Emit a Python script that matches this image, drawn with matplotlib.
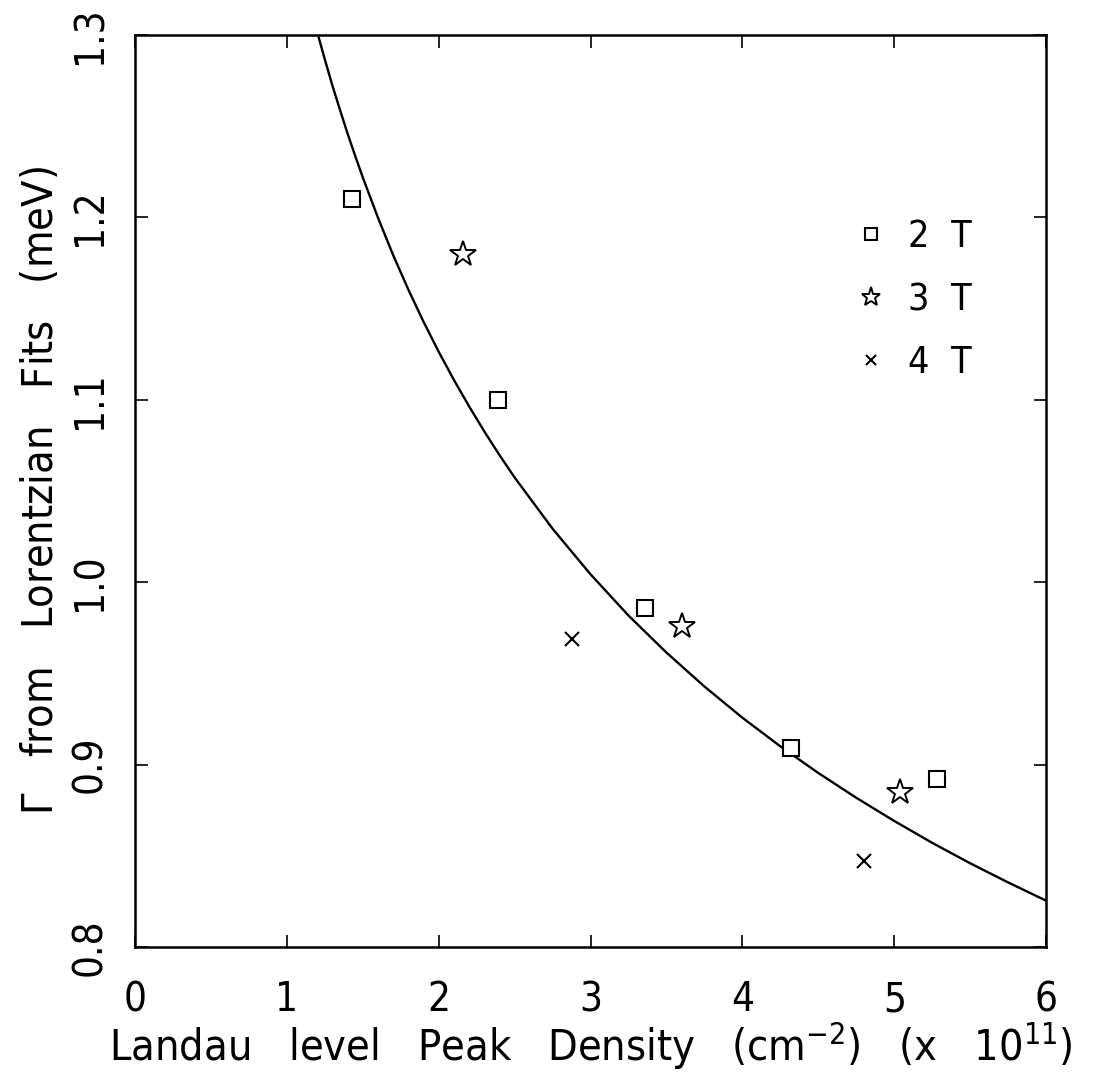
import matplotlib
matplotlib.use('Agg')
from matplotlib import pyplot as plt

# data
sq_x = [1.43, 2.39, 3.36, 4.32, 5.28]
sq_y = [1.210, 1.100, 0.986, 0.909, 0.892]

star_x = [2.16, 3.60, 5.04]
star_y = [1.180, 0.976, 0.885]

cross_x = [2.88, 4.80]
cross_y = [0.969, 0.847]

# fit curve, points
fit_x = [1.21, 1.25, 1.3, 1.35, 1.4, 1.45, 1.5, 1.6, 1.7, 1.8, 1.9, 2.0,
         2.1, 2.2, 2.3, 2.4, 2.5, 2.75, 3.0, 3.25, 3.5, 3.75, 4.0, 4.25,
         4.5, 4.75, 5.0, 5.25, 5.5, 5.75, 6.0]
fit_y = [1.2985, 1.2866, 1.2722, 1.2589, 1.2459, 1.2337, 1.2219, 1.1998,
         1.1793, 1.1604, 1.1428, 1.1263, 1.1109, 1.0964, 1.0827, 1.0697,
         1.0574, 1.0293, 1.0043, 0.9817, 0.9614, 0.9428, 0.9257, 0.9100,
         0.8954, 0.8818, 0.8691, 0.8571, 0.8459, 0.8354, 0.8254]

x_ticks = [0, 1, 2, 3, 4, 5, 6]
y_ticks = [0.8, 0.9, 1.0, 1.1, 1.2, 1.3]

plt.rcParams['font.family'] = ['DejaVu Sans']
plt.rcParams['font.stretch'] = 'condensed'

fig = plt.figure(figsize=(10.97, 10.77), dpi=100)
ax = fig.add_axes([0.1231, 0.1207, 0.8305, 0.8468])

ax.plot(fit_x, fit_y, color='black', lw=1.7)
ax.plot(sq_x, sq_y, ls='none', marker='s', ms=12, mfc='white', mec='black',
        mew=1.5, label='2  T')
ax.plot(star_x, star_y, ls='none', marker='*', ms=19, mfc='white', mec='black',
        mew=1.4, label='3  T')
ax.plot(cross_x, cross_y, ls='none', marker='x', ms=10, color='black',
        mew=1.5, label='4  T')

ax.set_xlim(0, 6)
ax.set_ylim(0.8, 1.3)
ax.set_xticks(x_ticks)
ax.set_xticklabels([str(t) for t in x_ticks])
ax.set_yticks(y_ticks)
ax.set_yticklabels(['%.1f' % t for t in y_ticks], rotation=90, va='center')

for s in ax.spines.values():
    s.set_linewidth(1.8)
ax.tick_params(axis='both', which='major', direction='in', length=9, width=1.2,
               top=True, right=True, labelsize=29, colors='black')
ax.tick_params(axis='x', pad=24)
ax.tick_params(axis='y', pad=18)

ax.set_xlabel(r'Landau   level   Peak   Density   (cm$^{-2}$)   (x   10$^{11}$)',
              fontsize=31, labelpad=0)
ax.set_ylabel(r'$\Gamma$   from   Lorentzian   Fits   (meV)', fontsize=31,
              labelpad=6)

ax.legend(loc='upper left', bbox_to_anchor=(0.75, 0.835), frameon=False,
          fontsize=27, markerscale=0.75, handlelength=1.0, handletextpad=0.5,
          labelspacing=0.72)

plt.savefig('out.png', dpi=100)
